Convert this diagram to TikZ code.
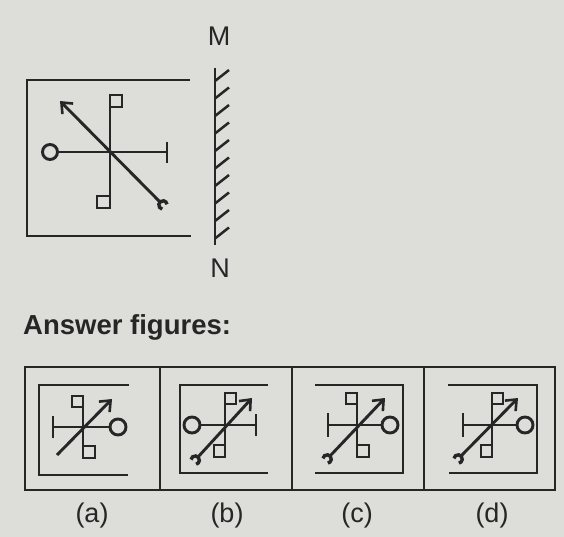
\documentclass[tikz,border=0pt]{standalone}
\usepackage{fontspec}
\newfontfamily\hv{Liberation Sans}
\usetikzlibrary{arrows.meta}
\definecolor{paper}{RGB}{221,221,218}
\definecolor{ink}{RGB}{38,38,38}
\tikzset{
  ln/.style={draw=ink,line width=2.9pt},
  thin ln/.style={draw=ink,line width=2.5pt},
  arr/.style={ln,-{Straight Barb[length=9pt,width=15pt,line width=2.6pt]}},
  wr/.style={draw=ink,line width=3.4pt},
  lbl/.style={font=\hv\fontsize{27}{30}\selectfont,text=ink,inner sep=0pt},
}
% wrench head: #1 = end point, #2 = outward angle
\newcommand\wrenchhead[2]{%
  \draw[wr] (#1) ++(#2:4.2) ++(#2+55:4.2) arc[start angle=#2+55,end angle=#2+305,radius=4.2];}
\begin{document}
\begin{tikzpicture}[x=1pt,y=-1pt]
\path[fill=paper] (0,0) rectangle (564,537);
\useasboundingbox (0,0) rectangle (564,537);

% ---------- question figure ----------
\draw[ln] (190,80) -- (27,80) -- (27,236) -- (191,236);
\draw[ln] (57.5,152) -- (167,152);
\draw[ln] (50,152) circle[radius=7.5];
\draw[ln] (167,142) -- (167,163);
\draw[ln] (110,95) -- (110,208);
\draw[ln] (110,95) rectangle (122,107);
\draw[ln] (97,196) rectangle (110,208);
\draw[arr] (160,202) -- (60,101);
\wrenchhead{160,202}{45}
% mirror
\draw[ln] (215,68) -- (215,245);
\foreach \y in {70,87.5,105,122.5,140,157.5,175,192.5,210,227.5}
  \draw[thin ln] (215,\y+11) -- (229,\y);
\node[lbl] (M) at (219,36) {M};
\node[lbl] (N) at (220,268) {N};

\node[font=\hv\bfseries\fontsize{27.5}{30}\selectfont,text=ink,anchor=base west,inner sep=0pt] (ans) at (23,334) {Answer figures:};

% ---------- answer figures ----------
\draw[ln] (25,367) rectangle (555,490);
\draw[ln] (160,367) -- (160,490);
\draw[ln] (292,367) -- (292,490);
\draw[ln] (424,367) -- (424,490);

% (a)
\draw[ln] (129,385) -- (39,385) -- (39,475) -- (128,475);
\draw[ln] (53,427) -- (110,427);
\draw[ln] (118,427) circle[radius=8];
\draw[ln] (53,416) -- (53,438);
\draw[ln] (83,396) -- (83,458);
\draw[ln] (72,396) rectangle (83,407);
\draw[ln] (83,446) rectangle (95,458);
\draw[arr] (57,455) -- (112,399);

% (b)
\draw[ln] (268,385) -- (180,385) -- (180,473) -- (268,473);
\draw[ln] (200,425) -- (256,425);
\draw[ln] (192,425) circle[radius=8];
\draw[ln] (256,414) -- (256,436);
\draw[ln] (225,393) -- (225,457);
\draw[ln] (225,393) rectangle (236,404);
\draw[ln] (214,445) rectangle (225,457);
\draw[arr] (198,457) -- (252,398);
\wrenchhead{198,457}{132}

% (c)
\draw[ln] (315,385) -- (403,385) -- (403,473) -- (315,473);
\draw[ln] (328,425) -- (382,425);
\draw[ln] (390,425) circle[radius=8];
\draw[ln] (328,413) -- (328,437);
\draw[ln] (357,393) -- (357,457);
\draw[ln] (346,393) rectangle (357,404);
\draw[ln] (357,445) rectangle (369,457);
\draw[arr] (330,456) -- (385,398);
\wrenchhead{330,456}{134}

% (d)
\draw[ln] (448,385) -- (537,385) -- (537,473) -- (449,473);
\draw[ln] (463,425) -- (517,425);
\draw[ln] (525,425) circle[radius=8];
\draw[ln] (463,413) -- (463,437);
\draw[ln] (492,393) -- (492,457);
\draw[ln] (492,393) rectangle (503,404);
\draw[ln] (481,445) rectangle (492,457);
\draw[arr] (461,456) -- (518,398);
\wrenchhead{461,456}{134}

\node[lbl] (la) at (92,516) {(a)};
\node[lbl] (lb) at (227,516) {(b)};
\node[lbl] (lc) at (357,516) {(c)};
\node[lbl] (ld) at (492,516) {(d)};
\end{tikzpicture}
\end{document}
